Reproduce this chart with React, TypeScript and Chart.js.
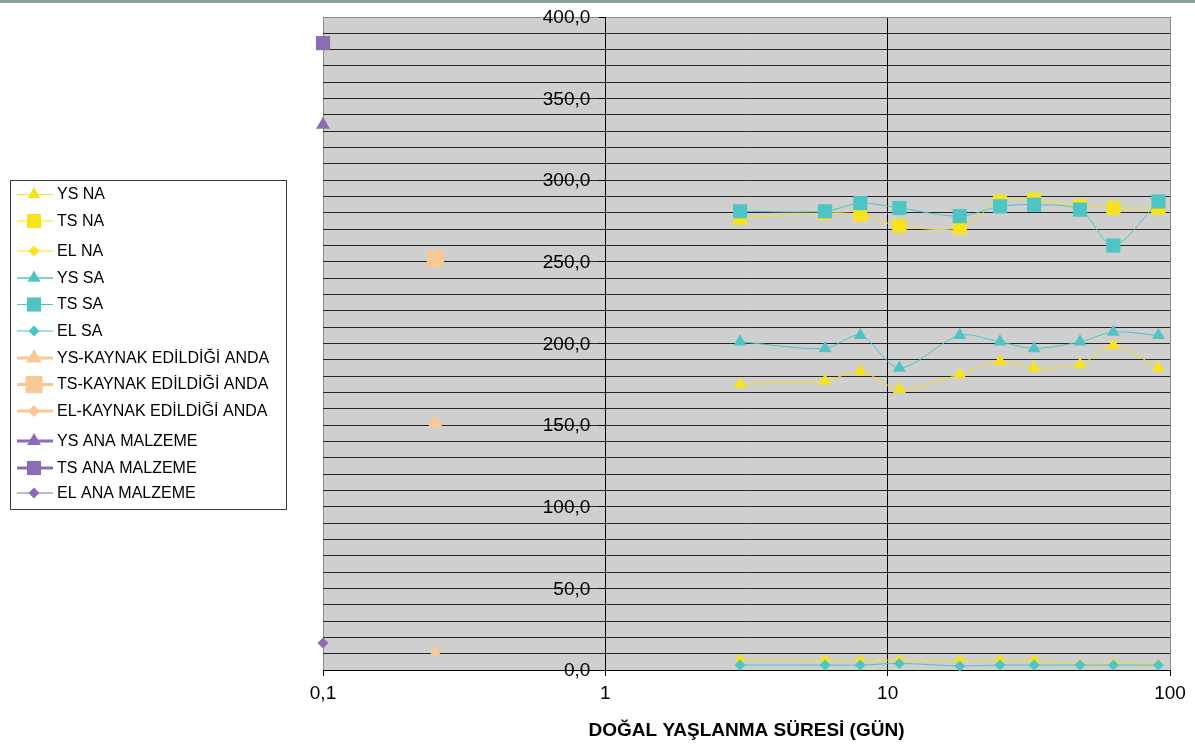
import React, { useEffect, useRef } from 'react';
import { Chart, registerables } from 'chart.js';
import { drawPoint } from 'chart.js/helpers';

Chart.register(...registerables);

// ---- data ----
const agingDays = [3, 6, 8, 11, 18, 25, 33, 48, 63, 91];
const weldDay = [0.25];
const baseDay = [0.1];

const ysNA = [175, 177, 183, 172, 181, 189, 185, 187, 199, 185];
const tsNA = [277, 280, 279, 272, 271, 287, 288, 284, 283, 283];
const elNA = [6.5, 6, 6, 6, 6, 6, 6, 3.5, 4, 3.5];

const ysSA = [201, 197, 205, 185, 205, 201, 197, 201, 207, 205];
const tsSA = [281, 281, 286, 283, 278, 284, 285, 282, 260, 287];
const elSA = [3, 3, 3, 4, 2.5, 3, 3, 3, 3, 3];

const ysWeld = [151];
const tsWeld = [252];
const elWeld = [11];

const ysBase = [334];
const tsBase = [384];
const elBase = [16.5];

const xTickValues = [0.1, 1, 10, 100];
const yAxisCrossing = 1;
const yMin = 0;
const yMax = 400;
const yGridStep = 10;
const yLabelStep = 50;
const xTitle = 'DOĞAL YAŞLANMA SÜRESİ (GÜN)';

// ---- styles ----
const YELLOW = '#f7e21e';
const CYAN = '#4fc4c4';
const PEACH = '#f9c995';
const PURPLE = '#8c6db3';
const FONT = '"Liberation Sans", Arial, Helvetica, sans-serif';

type SeriesDef = {
  label: string;
  xs: number[];
  ys: number[];
  color: string;
  style: string;
  radius: number;
  legendLine: number;
  order: number;
};

const series: SeriesDef[] = [
  { label: 'YS NA', xs: agingDays, ys: ysNA, color: YELLOW, style: 'triangle', radius: 7.5, legendLine: 1, order: 2 },
  { label: 'TS NA', xs: agingDays, ys: tsNA, color: YELLOW, style: 'rect', radius: 10, legendLine: 1, order: 2 },
  { label: 'EL NA', xs: agingDays, ys: elNA, color: YELLOW, style: 'rectRot', radius: 5.5, legendLine: 1, order: 2 },
  { label: 'YS SA', xs: agingDays, ys: ysSA, color: CYAN, style: 'triangle', radius: 7.5, legendLine: 1.5, order: 1 },
  { label: 'TS SA', xs: agingDays, ys: tsSA, color: CYAN, style: 'rect', radius: 10, legendLine: 1, order: 1 },
  { label: 'EL SA', xs: agingDays, ys: elSA, color: CYAN, style: 'rectRot', radius: 5.5, legendLine: 1, order: 1 },
  { label: 'YS-KAYNAK EDİLDİĞİ ANDA', xs: weldDay, ys: ysWeld, color: PEACH, style: 'triangle', radius: 9, legendLine: 3, order: 0 },
  { label: 'TS-KAYNAK EDİLDİĞİ ANDA', xs: weldDay, ys: tsWeld, color: PEACH, style: 'rect', radius: 12, legendLine: 3, order: 0 },
  { label: 'EL-KAYNAK EDİLDİĞİ ANDA', xs: weldDay, ys: elWeld, color: PEACH, style: 'rectRot', radius: 6, legendLine: 3, order: 0 },
  { label: 'YS ANA MALZEME', xs: baseDay, ys: ysBase, color: PURPLE, style: 'triangle', radius: 8, legendLine: 3, order: 0 },
  { label: 'TS ANA MALZEME', xs: baseDay, ys: tsBase, color: PURPLE, style: 'rect', radius: 10, legendLine: 3, order: 0 },
  { label: 'EL ANA MALZEME', xs: baseDay, ys: elBase, color: PURPLE, style: 'rectRot', radius: 5.5, legendLine: 1, order: 0 },
];

const fmtComma = (v: number, digits?: number) =>
  (digits === undefined ? String(v) : v.toFixed(digits)).replace('.', ',');

// ---- plugins ----
const plotBackground = {
  id: 'plotBackground',
  beforeDraw(chart: any) {
    const { ctx, chartArea: a } = chart;
    ctx.save();
    ctx.fillStyle = '#cfcfcf';
    ctx.fillRect(a.left, a.top, a.right - a.left, a.bottom - a.top);
    ctx.restore();
  },
};

// y labels sit left of the crossing axis (x = 1)
const yCrossLabels = {
  id: 'yCrossLabels',
  afterDraw(chart: any) {
    const { ctx } = chart;
    const xs = chart.scales.x;
    const ys = chart.scales.y;
    const axisX = xs.getPixelForValue(yAxisCrossing);
    ctx.save();
    ctx.fillStyle = '#000';
    ctx.font = `19px ${FONT}`;
    ctx.textAlign = 'right';
    ctx.textBaseline = 'middle';
    ys.ticks.forEach((t: any) => {
      if (t.value % yLabelStep !== 0) return;
      ctx.fillText(fmtComma(t.value, 1), axisX - 15, ys.getPixelForValue(t.value) + 1);
    });
    ctx.restore();
  },
};

const legendBox = { left: 10.5, top: 180.5, right: 286.5, bottom: 509.5 };
const legendRows = [194.5, 221, 251, 278, 304.5, 331, 358, 384.5, 411, 441, 468, 493];

const sideLegend = {
  id: 'sideLegend',
  afterDraw(chart: any) {
    const { ctx } = chart;
    ctx.save();
    ctx.fillStyle = '#ffffff';
    ctx.fillRect(legendBox.left, legendBox.top, legendBox.right - legendBox.left, legendBox.bottom - legendBox.top);
    ctx.strokeStyle = '#3a3a3a';
    ctx.lineWidth = 1;
    ctx.strokeRect(legendBox.left, legendBox.top, legendBox.right - legendBox.left, legendBox.bottom - legendBox.top);
    chart.data.datasets.forEach((ds: any, i: number) => {
      const y = legendRows[i];
      ctx.strokeStyle = ds.borderColor;
      ctx.lineWidth = ds.legendLineWidth;
      ctx.beginPath();
      ctx.moveTo(17, y);
      ctx.lineTo(53, y);
      ctx.stroke();
      ctx.fillStyle = ds.pointBackgroundColor;
      drawPoint(ctx, { pointStyle: ds.pointStyle, radius: ds.pointRadius, rotation: 0, borderWidth: 0 } as any, 34, y);
      ctx.fillStyle = '#000';
      ctx.font = `16px ${FONT}`;
      ctx.textAlign = 'left';
      ctx.textBaseline = 'middle';
      ctx.fillText(ds.label, 57, y + 0.5);
    });
    ctx.restore();
  },
};

export default function App() {
  const canvasRef = useRef<HTMLCanvasElement | null>(null);

  useEffect(() => {
    document.body.style.margin = '0';
    const canvas = canvasRef.current;
    if (!canvas) return;
    Chart.defaults.font.family = FONT;

    const datasets = series.map((s) => ({
      label: s.label,
      data: s.xs.map((x, i) => ({ x, y: s.ys[i] })),
      borderColor: s.color,
      backgroundColor: s.color,
      pointBackgroundColor: s.color,
      pointBorderColor: s.color,
      pointBorderWidth: 0,
      pointStyle: s.style,
      pointRadius: s.radius,
      pointHoverRadius: s.radius,
      borderWidth: 1,
      tension: 0.3,
      showLine: true,
      clip: false,
      order: s.order,
      legendLineWidth: s.legendLine,
    }));

    const chart = new Chart(canvas, {
      type: 'line',
      data: { datasets: datasets as any },
      options: {
        animation: false,
        responsive: false,
        devicePixelRatio: 1,
        events: [],
        layout: { padding: { left: 323, right: 25, top: 17, bottom: 0 } },
        plugins: {
          legend: { display: false },
          tooltip: { enabled: false },
          title: { display: false },
        },
        scales: {
          x: {
            type: 'logarithmic',
            min: xTickValues[0],
            max: xTickValues[xTickValues.length - 1],
            position: 'bottom',
            afterBuildTicks: (s: any) => {
              s.ticks = xTickValues.map((v) => ({ value: v }));
            },
            afterFit: (s: any) => {
              s.height = 74;
            },
            ticks: {
              autoSkip: false,
              maxRotation: 0,
              padding: 6,
              color: '#000',
              font: { size: 19 },
              callback: (v: any) => fmtComma(Number(v)),
            },
            grid: {
              color: (c: any) => (c.tick && (c.tick.value === 1 || c.tick.value === 10) ? '#000000' : '#8a8a8a'),
              lineWidth: 1,
              tickLength: 6,
              tickColor: '#000',
            },
            border: { display: true, color: '#000', width: 1 },
            title: {
              display: true,
              text: xTitle,
              color: '#000',
              font: { size: 19, weight: 'bold' },
              padding: { top: 0, bottom: 2 },
            },
          },
          y: {
            type: 'linear',
            min: yMin,
            max: yMax,
            position: { x: yAxisCrossing } as any,
            ticks: {
              display: false,
              stepSize: yGridStep,
              autoSkip: false,
              callback: (v: any) => (Number(v) % yLabelStep === 0 ? fmtComma(Number(v), 1) : ''),
            },
            grid: {
              color: (c: any) => (c.tick && c.tick.value === yMax ? '#8a8a8a' : '#262626'),
              lineWidth: 1,
              tickLength: 6,
              tickColor: (c: any) => (c.tick && c.tick.value % yLabelStep === 0 ? '#000' : 'rgba(0,0,0,0)'),
            },
            border: { display: true, color: '#000', width: 1 },
          },
        },
      } as any,
      plugins: [plotBackground, yCrossLabels, sideLegend],
    });

    return () => chart.destroy();
  }, []);

  return (
    <div style={{ position: 'absolute', left: 0, top: 0, width: 1195, height: 744, background: '#fff' }}>
      <div style={{ position: 'absolute', left: 0, top: 0, width: 1195, height: 3, background: '#8da294' }} />
      <canvas ref={canvasRef} width={1195} height={744} style={{ display: 'block' }} />
    </div>
  );
}
